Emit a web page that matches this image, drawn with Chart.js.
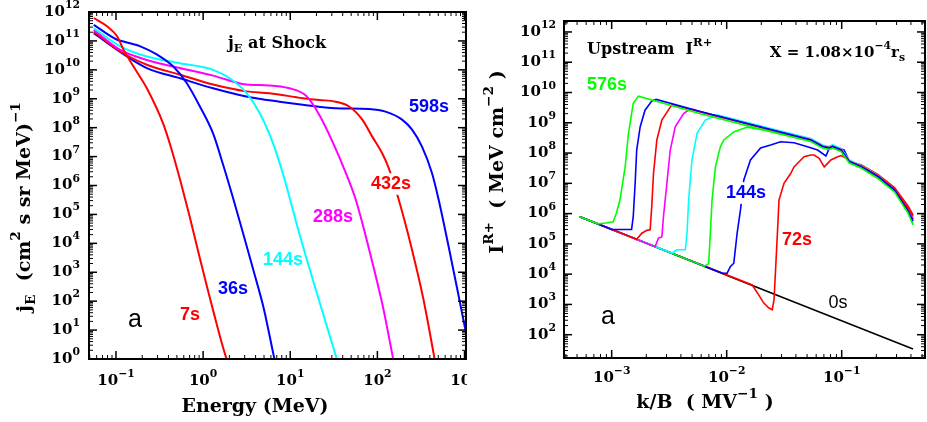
<!DOCTYPE html>
<html>
<head>
<meta charset="utf-8">
<script src="https://cdn.jsdelivr.net/npm/chart.js@4/dist/chart.umd.min.js"></script>
<style>
  html, body { margin: 0; padding: 0; background: #fff; }
  #wrap { position: relative; width: 927px; height: 422px; overflow: hidden; background: #fff; }
  canvas { position: absolute; top: 0; }
  #left { left: 0; }
  #right { left: 470px; }
</style>
</head>
<body>
<div id="wrap">
  <canvas id="left" width="467" height="422"></canvas>
  <canvas id="right" width="457" height="422"></canvas>
</div>
<script>
// --- DATA : panneau gauche, j_E au choc (E en MeV) ---
const e7s   = [0.0556, 0.0789, 0.103, 0.122, 0.159, 0.226, 0.347, 0.436, 0.545, 0.703, 0.916, 1.30, 1.85, 1.92];
const j7s   = [6.2e11, 3.2e11, 1.45e11, 5.0e10, 1.3e10, 2.3e9, 1.4e8, 1.7e7, 1.55e6, 8.1e4, 3.1e3, 49, 1.05, 0.8];
const e36s  = [0.0556, 0.103, 0.122, 0.190, 0.294, 0.455, 0.647, 0.918, 1.30, 1.69, 2.21, 2.88, 3.75, 4.98, 6.56, 6.7];
const j36s  = [3.6e11, 1.1e11, 9.5e10, 6.5e10, 3.4e10, 1.3e10, 3.5e9, 5.4e8, 6.3e7, 5.4e6, 3.6e5, 2.2e4, 1.26e3, 54, 1.05, 0.8];
const e144s = [0.0556, 0.112, 0.226, 0.543, 1.30, 2.02, 3.13, 4.45, 6.31, 8.20, 12.7, 19.7, 35];
const j144s = [2.75e11, 6.5e10, 2.9e10, 1.7e10, 1.0e10, 5.1e9, 1.6e9, 3.2e8, 3.0e7, 2.7e6, 2.2e4, 245, 0.8];
const e288s = [0.0556, 0.112, 0.226, 0.543, 1.30, 3.13, 5.78, 9.77, 15.2, 21.5, 30.5, 43.5, 56.5, 80.2, 114, 154];
const j288s = [2.4e11, 4.9e10, 2.2e10, 1.15e10, 6.3e9, 3.1e9, 2.9e9, 2.3e9, 1.26e9, 2.8e8, 3.3e7, 2.7e6, 3.2e5, 6.3e3, 79, 0.8];
const e432s = [0.0556, 0.112, 0.226, 0.543, 1.30, 3.13, 5.78, 13.9, 21.5, 33.3, 47.3, 67.1, 87.3, 113.5, 135, 176, 250, 339, 460];
const j432s = [2.1e11, 4.3e10, 1.5e10, 6.8e9, 3.1e9, 1.8e9, 1.55e9, 1.05e9, 9.1e8, 7.9e8, 5.4e8, 1.9e8, 4.9e7, 1.3e7, 4.0e6, 3.2e5, 5.9e3, 110, 0.8];
const e598s = [0.0556, 0.117, 0.226, 0.543, 1.30, 3.13, 7.52, 13.9, 33.3, 80.2, 124, 192, 250, 325, 423, 505, 656, 853, 1040];
const j598s = [1.85e11, 3.8e10, 1.15e10, 5.1e9, 2.3e9, 1.2e9, 7.9e8, 6.2e8, 4.7e8, 4.4e8, 3.6e8, 1.9e8, 8.5e7, 2.2e7, 2.7e6, 3.2e5, 7.9e3, 160, 8];

// --- DATA : panneau droit, I^R+ en amont (k/B en MV^-1) ---
const k0s   = [5.28e-4, 0.0161, 0.417];
const i0s   = [7.9e5, 4.5e3, 34];
const k72s  = [5.28e-4, 0.01667, 0.01892, 0.02094, 0.02317, 0.0249, 0.0258, 0.0267, 0.0277, 0.0285, 0.0315, 0.0360, 0.0385, 0.0441, 0.0471, 0.0538, 0.0575, 0.0637, 0.0705, 0.0805, 0.0923, 0.0986, 0.1052, 0.1205, 0.147, 0.206, 0.288, 0.377, 0.417];
const i72s  = [7.9e5, 4.4e3, 2.1e3, 1.13e3, 776, 667, 1.43e3, 1.79e4, 2.9e5, 2.8e6, 1.0e7, 2.1e7, 3.5e7, 5.9e7, 7.6e7, 8.6e7, 8.6e7, 6.7e7, 3.5e7, 5.9e7, 7.6e7, 8.3e7, 7.4e7, 5.1e7, 4.1e7, 1.96e7, 7.3e6, 1.79e6, 9.1e5];
const k144s = [5.28e-4, 9.18e-3, 0.01009, 0.01079, 0.01153, 0.01233, 0.01318, 0.01409, 0.0161, 0.0197, 0.0241, 0.0294, 0.0385, 0.0504, 0.0617, 0.0729, 0.0778, 0.0891, 0.1052, 0.1165, 0.147, 0.206, 0.288, 0.377, 0.417];
const i144s = [7.9e5, 1.07e4, 1.08e4, 1.79e4, 2.3e4, 2.25e5, 1.32e6, 1.29e7, 5.9e7, 1.47e8, 1.84e8, 2.36e8, 2.2e8, 1.61e8, 1.26e8, 8.0e7, 1.43e8, 1.61e8, 1.26e8, 5.3e7, 3.7e7, 1.75e7, 6.3e6, 1.37e6, 6.4e5];
const k216s = [5.28e-4, 6.40e-3, 6.97e-3, 7.21e-3, 7.46e-3, 7.98e-3, 8.81e-3, 9.42e-3, 0.01153, 0.0151, 0.0241, 0.0538, 0.0682, 0.0778, 0.0834, 0.0986, 0.1165, 0.147, 0.206, 0.288, 0.377, 0.417];
const i216s = [7.9e5, 1.84e4, 2.2e4, 2.25e5, 2.8e6, 3.5e7, 1.61e8, 2.7e8, 5.0e8, 7.2e8, 5.3e8, 2.5e8, 1.52e8, 1.36e8, 1.52e8, 1.17e8, 4.9e7, 3.3e7, 1.5e7, 5.4e6, 1.14e6, 4.9e5];
const k288s = [5.28e-4, 3.36e-3, 3.69e-3, 4.37e-3, 4.52e-3, 4.67e-3, 4.99e-3, 5.52e-3, 6.52e-3, 8.26e-3, 0.0241, 0.0538, 0.0682, 0.0778, 0.0834, 0.0986, 0.1165, 0.147, 0.206, 0.288, 0.377, 0.417];
const i288s = [7.9e5, 4.9e4, 6.4e4, 6.4e4, 2.25e5, 2.8e6, 5.9e7, 4.5e8, 1.23e9, 1.84e9, 6.4e8, 3.0e8, 1.84e8, 1.64e8, 1.9e8, 1.41e8, 5.9e7, 3.9e7, 1.82e7, 6.5e6, 1.43e6, 7.2e5];
const k360s = [5.28e-4, 2.39e-3, 2.55e-3, 2.73e-3, 2.82e-3, 3.02e-3, 3.23e-3, 3.57e-3, 4.22e-3, 4.82e-3, 5.90e-3, 0.0241, 0.0538, 0.0682, 0.0778, 0.0834, 0.0986, 0.1165, 0.147, 0.206, 0.288, 0.377, 0.417];
const i360s = [7.9e5, 8.1e4, 1.54e5, 1.7e5, 7.9e5, 1.0e7, 1.26e8, 7.4e8, 2.0e9, 2.9e9, 2.32e9, 5.9e8, 2.8e8, 1.68e8, 1.5e8, 1.7e8, 1.3e8, 5.5e7, 3.7e7, 1.72e7, 6.3e6, 1.43e6, 7.2e5];
const k432s = [5.28e-4, 1.65e-3, 1.83e-3, 2.02e-3, 2.16e-3, 2.23e-3, 2.31e-3, 2.47e-3, 2.73e-3, 3.34e-3, 5.90e-3, 0.0241, 0.0538, 0.0682, 0.0778, 0.0834, 0.0986, 0.1165, 0.147, 0.206, 0.288, 0.377, 0.417];
const i432s = [7.9e5, 1.42e5, 2.25e5, 2.8e5, 2.9e5, 1.7e6, 2.1e7, 2.7e8, 1.23e9, 4.0e9, 2.29e9, 5.8e8, 2.7e8, 1.67e8, 1.49e8, 1.67e8, 1.28e8, 5.3e7, 3.65e7, 1.75e7, 6.5e6, 1.54e6, 8.4e5];
const k504s = [5.28e-4, 1.005e-3, 1.49e-3, 1.54e-3, 1.60e-3, 1.65e-3, 1.77e-3, 1.95e-3, 2.23e-3, 2.44e-3, 5.90e-3, 0.0241, 0.0538, 0.0682, 0.0778, 0.0834, 0.0986, 0.1165, 0.147, 0.206, 0.288, 0.377, 0.417];
const i504s = [7.9e5, 3.0e5, 3.0e5, 7.9e5, 1.0e7, 1.26e8, 7.4e8, 2.6e9, 5.2e9, 5.9e9, 2.34e9, 6.0e8, 2.7e8, 1.64e8, 1.46e8, 1.64e8, 1.26e8, 5.2e7, 3.6e7, 1.68e7, 6.0e6, 1.22e6, 5.7e5];
const k576s = [5.28e-4, 7.59e-4, 8.91e-4, 1.03e-3, 1.10e-3, 1.18e-3, 1.31e-3, 1.40e-3, 1.54e-3, 1.71e-3, 5.90e-3, 0.0241, 0.0538, 0.0682, 0.0778, 0.0834, 0.0986, 0.1165, 0.147, 0.206, 0.288, 0.377, 0.417];
const i576s = [7.9e5, 4.6e5, 4.9e5, 5.4e5, 1.05e6, 2.8e6, 3.5e7, 4.5e8, 4.4e9, 7.6e9, 2.0e9, 5.1e8, 2.4e8, 1.46e8, 1.31e8, 1.46e8, 1.12e8, 4.7e7, 3.2e7, 1.45e7, 5.2e6, 1.05e6, 4.2e5];

// --- STYLES ---
const RED = '#ff0000', BLUE = '#0000ff', CYAN = '#00ffff', MAGENTA = '#ff00ff', GREEN = '#00ff00', BLACK = '#000000';
const SERIF = '"DejaVu Serif", "Liberation Serif", serif';
const SANS = '"Liberation Sans", Arial, sans-serif';

const pts = (xs, ys) => xs.map((x, i) => ({ x, y: ys[i] }));

// --- TEXTE avec exposants / indices ---
function drawRich(ctx, t) {
  const parts = typeof t.parts === 'string' ? [[t.parts, 'n']] : t.parts;
  const fontFor = k => `${t.weight || 'normal'} ${k === 'n' ? t.size : t.size * 0.72}px ${t.family}`;
  const dy = { n: 0, sup: -0.45, sub: 0.32 };
  let w = 0;
  parts.forEach(([s, k]) => { ctx.font = fontFor(k); w += ctx.measureText(s).width; });
  ctx.save();
  ctx.translate(t.x, t.y);
  if (t.rotate) ctx.rotate(-Math.PI / 2);
  let x0 = t.align === 'left' ? 0 : t.align === 'right' ? -w : -w / 2;
  if (t.bg) {
    ctx.fillStyle = '#fff';
    ctx.fillRect(x0 - 3, -t.size * 0.6, w + 6, t.size * 1.2);
  }
  ctx.fillStyle = t.color || BLACK;
  ctx.textBaseline = 'middle';
  ctx.textAlign = 'left';
  parts.forEach(([s, k]) => {
    ctx.font = fontFor(k);
    ctx.fillText(s, x0, dy[k] * t.size);
    x0 += ctx.measureText(s).width;
  });
  ctx.restore();
}

// graduations log : majeures 10^n, mineures k*10^n
function logTicks(scale) {
  const out = [];
  const lo = Math.floor(Math.log10(scale.min)), hi = Math.ceil(Math.log10(scale.max));
  for (let n = lo; n <= hi; n++) {
    for (let k = 1; k <= 9; k++) {
      const v = k * Math.pow(10, n);
      if (v >= scale.min * 0.999 && v <= scale.max * 1.001) out.push({ v, n, major: k === 1 });
    }
  }
  return out;
}

function seg(ctx, x1, y1, x2, y2) {
  ctx.beginPath(); ctx.moveTo(x1, y1); ctx.lineTo(x2, y2); ctx.stroke();
}

// cadre style PGPLOT : graduations vers l'intérieur sur les 4 côtés
function makeFrame(cfg) {
  return {
    id: 'frame',
    afterDatasetsDraw(chart) {
      const { ctx, chartArea: a, scales: { x, y } } = chart;
      ctx.save();
      ctx.strokeStyle = BLACK;
      logTicks(x).forEach(t => {
        const p = x.getPixelForValue(t.v);
        const len = t.major ? 8 : 4;
        ctx.lineWidth = t.major ? 1.5 : 1;
        seg(ctx, p, a.bottom, p, a.bottom - len);
        seg(ctx, p, a.top, p, a.top + len);
        if (t.major) {
          drawRich(ctx, { parts: [['10', 'n'], [String(t.n).replace('-', '−'), 'sup']],
            x: p, y: a.bottom + cfg.xLabelGap, size: 15, family: SERIF, weight: 'bold' });
        }
      });
      logTicks(y).forEach(t => {
        const p = y.getPixelForValue(t.v);
        const len = t.major ? 8 : 4;
        ctx.lineWidth = t.major ? 1.5 : 1;
        seg(ctx, a.left, p, a.left + len, p);
        seg(ctx, a.right, p, a.right - len, p);
        if (t.major) {
          drawRich(ctx, { parts: [['10', 'n'], [String(t.n), 'sup']],
            x: a.left - cfg.yLabelGap, y: p, size: 15, family: SERIF, weight: 'bold', align: 'right' });
        }
      });
      ctx.lineWidth = 2;
      ctx.strokeRect(a.left, a.top, a.right - a.left, a.bottom - a.top);
      cfg.texts.forEach(t => drawRich(ctx, t));
      ctx.restore();
    }
  };
}

function logAxis(min, max, size, horizontal) {
  return {
    type: 'logarithmic', min, max,
    ticks: { display: false },
    grid: { display: false },
    border: { display: false },
    afterFit: s => { if (horizontal) s.height = size; else s.width = size; }
  };
}

// --- PANNEAU GAUCHE ---
const leftSeries = [
  { e: e7s, j: j7s, color: RED },
  { e: e36s, j: j36s, color: BLUE },
  { e: e144s, j: j144s, color: CYAN },
  { e: e288s, j: j288s, color: MAGENTA },
  { e: e432s, j: j432s, color: RED },
  { e: e598s, j: j598s, color: BLUE }
];

new Chart(document.getElementById('left'), {
  type: 'scatter',
  data: {
    datasets: leftSeries.map(s => ({
      data: pts(s.e, s.j), showLine: true, borderColor: s.color, borderWidth: 2,
      pointRadius: 0, cubicInterpolationMode: 'monotone'
    }))
  },
  options: {
    responsive: false, animation: false, events: [], devicePixelRatio: 1,
    layout: { padding: { top: 12, right: 1, left: 0, bottom: 0 } },
    plugins: { legend: { display: false }, tooltip: { enabled: false } },
    scales: { x: logAxis(0.049, 1040, 63, true), y: logAxis(1, 1e12, 89, false) }
  },
  plugins: [makeFrame({
    xLabelGap: 22, yLabelGap: 9,
    texts: [
      { parts: [['j', 'n'], ['E', 'sub'], [' at Shock', 'n']], x: 277, y: 44, size: 16, family: SERIF, weight: 'bold' },
      { parts: '598s', x: 429, y: 107, size: 18, family: SANS, weight: 'bold', color: BLUE },
      { parts: '432s', x: 391, y: 184, size: 18, family: SANS, weight: 'bold', color: RED, bg: true },
      { parts: '288s', x: 333, y: 217, size: 18, family: SANS, weight: 'bold', color: MAGENTA },
      { parts: '144s', x: 283, y: 260, size: 18, family: SANS, weight: 'bold', color: CYAN },
      { parts: '36s', x: 233, y: 289, size: 18, family: SANS, weight: 'bold', color: BLUE },
      { parts: '7s', x: 190, y: 315, size: 18, family: SANS, weight: 'bold', color: RED },
      { parts: 'a', x: 135, y: 320, size: 25, family: SANS },
      { parts: 'Energy (MeV)', x: 255, y: 407, size: 19, family: SERIF, weight: 'bold' },
      { parts: [['j', 'n'], ['E', 'sub'], ['  (cm', 'n'], ['2', 'sup'], [' s sr MeV)', 'n'], ['−1', 'sup']],
        x: 25, y: 207, size: 19, family: SERIF, weight: 'bold', rotate: true }
    ]
  })]
});

// --- PANNEAU DROIT ---
// ordre : la première série est dessinée au-dessus
const rightSeries = [
  { k: k576s, i: i576s, color: GREEN },
  { k: k504s, i: i504s, color: BLUE },
  { k: k432s, i: i432s, color: RED },
  { k: k360s, i: i360s, color: MAGENTA },
  { k: k288s, i: i288s, color: CYAN },
  { k: k216s, i: i216s, color: GREEN },
  { k: k144s, i: i144s, color: BLUE },
  { k: k72s, i: i72s, color: RED },
  { k: k0s, i: i0s, color: BLACK }
];

new Chart(document.getElementById('right'), {
  type: 'scatter',
  data: {
    datasets: rightSeries.map(s => ({
      data: pts(s.k, s.i), showLine: true, borderColor: s.color, borderWidth: 1.6,
      pointRadius: 0, tension: 0
    }))
  },
  options: {
    responsive: false, animation: false, events: [], devicePixelRatio: 1,
    layout: { padding: { top: 21, right: 2, left: 0, bottom: 0 } },
    plugins: { legend: { display: false }, tooltip: { enabled: false } },
    scales: { x: logAxis(3.85e-4, 0.53, 64, true), y: logAxis(17, 2.3e12, 94, false) }
  },
  plugins: [makeFrame({
    xLabelGap: 20, yLabelGap: 8,
    texts: [
      { parts: [['Upstream  I', 'n'], ['R+', 'sup']], x: 117, y: 50, size: 16, family: SERIF, weight: 'bold', align: 'left' },
      { parts: [['X = 1.08×10', 'n'], ['−4', 'sup'], ['r', 'n'], ['s', 'sub']], x: 435, y: 53, size: 15, family: SERIF, weight: 'bold', align: 'right' },
      { parts: '576s', x: 137, y: 85, size: 18, family: SANS, weight: 'bold', color: GREEN },
      { parts: '144s', x: 276, y: 193, size: 18, family: SANS, weight: 'bold', color: BLUE, bg: true },
      { parts: '72s', x: 327, y: 240, size: 18, family: SANS, weight: 'bold', color: RED },
      { parts: '0s', x: 368, y: 303, size: 18, family: SANS },
      { parts: 'a', x: 138, y: 317, size: 25, family: SANS },
      { parts: [['k/B  ( MV', 'n'], ['−1', 'sup'], [' )', 'n']], x: 235, y: 403, size: 19, family: SERIF, weight: 'bold' },
      { parts: [['I', 'n'], ['R+', 'sup'], ['  ( MeV cm', 'n'], ['−2', 'sup'], [' )', 'n']],
        x: 28, y: 162, size: 19, family: SERIF, weight: 'bold', rotate: true }
    ]
  })]
});
</script>
</body>
</html>
